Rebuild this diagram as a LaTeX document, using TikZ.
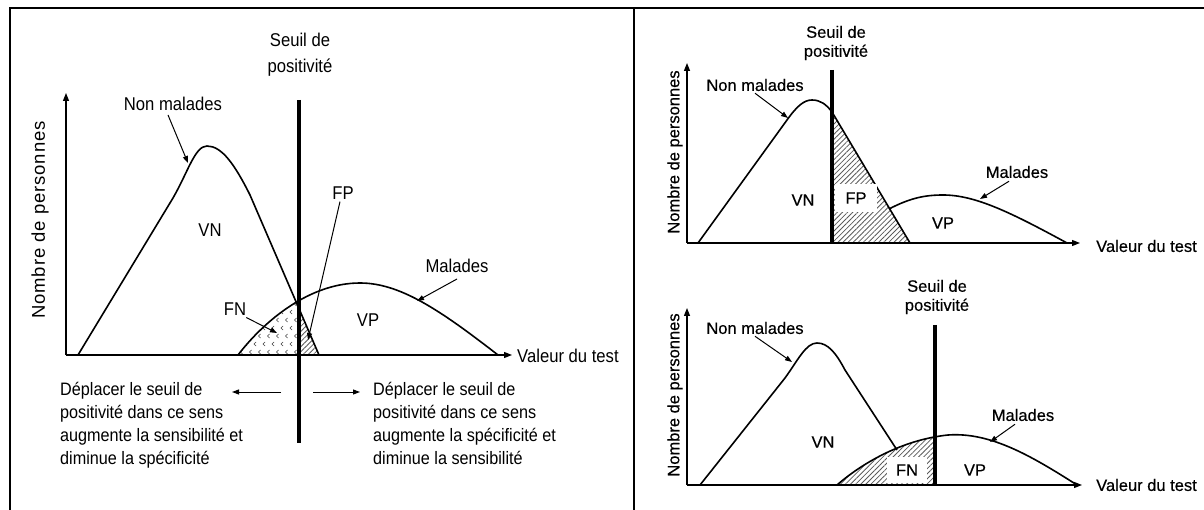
\documentclass[tikz,border=0pt]{standalone}
\usepackage{fontspec}
\setmainfont{Liberation Sans}
\newfontfamily\narrowf[FakeStretch=0.9]{Liberation Sans}
\newfontfamily\spacedf[LetterSpace=5]{Liberation Sans}
\newfontfamily\heavyf[FakeBold=0.4]{Liberation Sans}
\usetikzlibrary{arrows.meta,patterns.meta}
\begin{document}
\begin{tikzpicture}[x=1pt,y=-1pt,
  curve/.style={line width=1.6pt},
  axisline/.style={line width=1.3pt,-{Triangle[length=8pt,width=6pt]}},
  pointer/.style={line width=1pt,-{Triangle[length=7pt,width=5pt]}},
  thresh/.style={line width=4pt},
  frame/.style={line width=2pt},
  lbl/.style={font=\narrowf\fontsize{18.5}{26}\selectfont, inner sep=0pt, align=center},
  btxt/.style={font=\narrowf\fontsize{18}{23}\selectfont, inner sep=0pt, align=left, anchor=north west},
  rlbl/.style={font=\heavyf\fontsize{16.5}{19}\selectfont, inner sep=0pt, align=center},
  hatch/.style={pattern={Lines[angle=45,distance=3.6pt,line width=0.8pt]}, pattern color=black!65},
  whitebox/.style={fill=white, inner sep=0pt}
]
\useasboundingbox (0,0) rectangle (1204,510);

% frame
\draw[frame] (10,511) -- (10,8) -- (1205,8);
\draw[frame] (634,8) -- (634,511);

%================ LEFT PANEL =================
\coordinate (O1) at (66,355);
\coordinate (Y1) at (66,93);
\coordinate (X1) at (512,355);

% FN chevron region
\begin{scope}
  \clip (238,355) .. controls (265,320) and (310,283) .. (360,283) -- (360,355) -- cycle;
  \clip (230,270) rectangle (301,355);
  \foreach \i in {0,...,8} {
    \foreach \j in {0,...,8} {
      \pgfmathsetmacro{\xx}{236+\i*9+mod(\j,2)*4.5}
      \pgfmathsetmacro{\yy}{296+\j*8}
      \draw[line width=0.7pt, black!75] (\xx+2,\yy-2) -- (\xx,\yy) -- (\xx+2,\yy+2);
    }
  }
\end{scope}
% FP hatch
\begin{scope}
  \clip (299,260) rectangle (330,355);
  \fill[hatch] (250,195) -- (319,355) -- (250,355) -- cycle;
\end{scope}

\draw[axisline] (O1) -- (Y1);
\draw[axisline] (O1) -- (X1);

\draw[curve] (78,355) -- (173,198) .. controls (188,172) and (195,146) .. (207,146)
  .. controls (222,146) and (235,165) .. (250,195) -- (319,355);
\draw[curve] (238,355) .. controls (265,320) and (310,283) .. (360,283)
  .. controls (400,283) and (440,310) .. (498,355);

\coordinate (T1a) at (299,100);
\coordinate (T1b) at (299,443);
\draw[thresh] (T1a) -- (T1b);

\node[lbl] (seuil1) at (300,55) {Seuil de\\positivité};
\node[lbl] (nm1) at (173,104) {Non malades};
\coordinate (nm1tip) at (188,163);
\draw[pointer] ([xshift=-5pt,yshift=-4pt]nm1.south) -- (nm1tip);
\node[lbl] (vn1) at (210,230) {VN};
\node[lbl] (fp1) at (343,193) {FP};
\coordinate (fp1tip) at (308,340);
\draw[pointer] ([xshift=-3pt,yshift=-2pt]fp1.south) -- (fp1tip);
\node[lbl] (fn1) at (235,309) {FN};
\coordinate (fn1tip) at (277,333);
\draw[pointer] ([yshift=-2pt]fn1.south east) -- (fn1tip);
\node[lbl] (vp1) at (368,320) {VP};
\node[lbl] (m1) at (457,266) {Malades};
\coordinate (m1tip) at (417,301);
\draw[pointer] ([yshift=-6pt]m1.south) -- (m1tip);
\node[lbl, anchor=west] (val1) at (517,356) {Valeur du test};
\node[font=\spacedf\fontsize{18.5}{22}\selectfont, inner sep=0pt, rotate=90] (nb1) at (40,220) {Nombre de personnes};

\node[btxt] (bl) at (60,382) {Déplacer le seuil de\\positivité dans ce sens\\augmente la sensibilité et\\diminue la spécificité};
\node[btxt] (br) at (373,382) {Déplacer le seuil de\\positivité dans ce sens\\augmente la spécificité et\\diminue la sensibilité};
\coordinate (la1) at (281,392);
\coordinate (la2) at (232,392);
\coordinate (ra1) at (313,392);
\coordinate (ra2) at (360,392);
\draw[pointer] (la1) -- (la2);
\draw[pointer] (ra1) -- (ra2);

%================ RIGHT TOP PANEL =================
\coordinate (O2) at (687,243);
\coordinate (Y2) at (687,63);
\coordinate (X2) at (1080,243);

\begin{scope}
  \clip (833,90) rectangle (930,243);
  \fill[hatch] (832,112) -- (910,243) -- (832,243) -- cycle;
\end{scope}

\draw[axisline] (O2) -- (Y2);
\draw[axisline] (O2) -- (X2);

\draw[curve] (698,243) -- (787,120) .. controls (797,106) and (804,100) .. (812,100)
  .. controls (820,100) and (826,104) .. (832,112) -- (910,243);
\draw[curve] (889,209) .. controls (910,198) and (925,195) .. (943,195)
  .. controls (975,195) and (1010,212) .. (1067,243);

\coordinate (T2a) at (832,70);
\coordinate (T2b) at (832,243);
\draw[thresh] (T2a) -- (T2b);

\node[rlbl] (seuil2) at (836,43) {Seuil de\\positivité};
\node[rlbl] (nm2) at (755,85) {Non malades};
\coordinate (nm2tip) at (788,118);
\draw[pointer] ([yshift=-2pt]nm2.south) -- (nm2tip);
\node[rlbl] (vn2) at (803,200) {VN};
\node[rlbl, whitebox, minimum width=42pt, minimum height=28pt] (fp2) at (856,198) {FP};
\node[rlbl] (m2) at (1017,172) {Malades};
\coordinate (m2tip) at (980,199);
\draw[pointer] ([xshift=-8pt,yshift=-3pt]m2.south) -- (m2tip);
\node[rlbl] (vp2) at (943,223) {VP};
\node[rlbl, anchor=west] (val2) at (1096,246) {Valeur du test};
\node[rlbl, rotate=90] (nb2) at (675,152) {Nombre de personnes};

%================ RIGHT BOTTOM PANEL =================
\coordinate (O3) at (687,485);
\coordinate (Y3) at (687,308);
\coordinate (X3) at (1082,485);

\begin{scope}
  \clip (820,420) rectangle (934,485);
  \fill[hatch] (837,485) .. controls (860,465) and (900,440) .. (948,435) -- (948,485) -- cycle;
\end{scope}

\draw[axisline] (O3) -- (Y3);
\draw[axisline] (O3) -- (X3);

\draw[curve] (700,485) -- (785,378) .. controls (798,360) and (806,343) .. (817,343)
  .. controls (828,343) and (836,353) .. (845,370) -- (897,450);
\draw[curve] (837,485) .. controls (860,465) and (900,440) .. (948,435)
  .. controls (990,432) and (1030,455) .. (1077,485);

\coordinate (T3a) at (935,325);
\coordinate (T3b) at (935,485);
\draw[thresh] (T3a) -- (T3b);

\node[rlbl] (seuil3) at (937,297) {Seuil de\\positivité};
\node[rlbl] (nm3) at (755,328) {Non malades};
\coordinate (nm3tip) at (792,362);
\draw[pointer] ([yshift=-2pt]nm3.south) -- (nm3tip);
\node[rlbl] (vn3) at (823,442) {VN};
\node[rlbl, whitebox, minimum width=40pt, minimum height=26pt] (fn3) at (907,470) {FN};
\node[rlbl] (m3) at (1023,415) {Malades};
\coordinate (m3tip) at (990,442);
\draw[pointer] ([xshift=-8pt,yshift=-3pt]m3.south) -- (m3tip);
\node[rlbl] (vp3) at (975,470) {VP};
\node[rlbl, anchor=west] (val3) at (1096,485) {Valeur du test};
\node[rlbl, rotate=90] (nb3) at (675,395) {Nombre de personnes};

\end{tikzpicture}
\end{document}
